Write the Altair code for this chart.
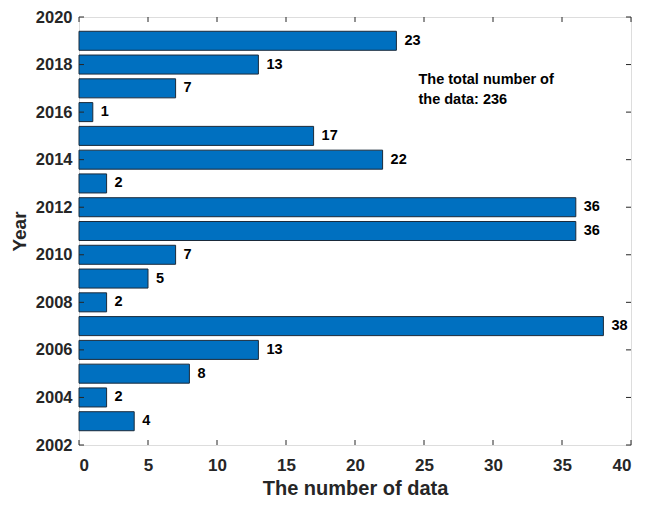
import altair as alt
import pandas as pd

years = [2003, 2004, 2005, 2006, 2007, 2008, 2009, 2010, 2011, 2012, 2013, 2014, 2015, 2016, 2017, 2018, 2019]
counts = [4, 2, 8, 13, 38, 2, 5, 7, 36, 36, 2, 22, 17, 1, 7, 13, 23]
x_ticks = [0, 5, 10, 15, 20, 25, 30, 35, 40]
y_ticks = [2002, 2004, 2006, 2008, 2010, 2012, 2014, 2016, 2018, 2020]
note_lines = ["The total number of", "the data: 236"]
note_x = [24.6, 24.6]
note_y = [2017.33, 2016.5]

W, H = 552, 428
FONT = "Liberation Sans"
INK = "#262626"

df = pd.DataFrame({"year": years, "count": counts})

xs = alt.Scale(domain=[0, 40], nice=False, zero=True)
ys = alt.Scale(domain=[2002, 2020], nice=False, zero=False)

bars = alt.Chart(df).transform_calculate(
    y0="datum.year - 0.4", y1="datum.year + 0.4"
).mark_bar(color="#0070C0", stroke="#1a2a3a", strokeWidth=1).encode(
    x=alt.X("count:Q", scale=xs,
            axis=alt.Axis(values=x_ticks, title="The number of data", grid=False,
                          domain=False, ticks=False, labelPadding=12,
                          labelFontSize=17, labelFontWeight="bold", labelColor=INK,
                          labelFont=FONT, titleFont=FONT, titleFontSize=20,
                          titleFontWeight="bold", titleColor=INK, titlePadding=5)),
    x2=alt.value(0),
    y=alt.Y("y0:Q", scale=ys,
            axis=alt.Axis(values=y_ticks, title="Year", grid=False, format="d",
                          domain=False, ticks=False, labelPadding=7,
                          labelFontSize=16.5, labelFontWeight="bold", labelColor=INK,
                          labelFont=FONT, titleFont=FONT, titleFontSize=19,
                          titleFontWeight="bold", titleColor=INK, titlePadding=6)),
    y2="y1:Q",
)

labels = alt.Chart(df).mark_text(
    align="left", baseline="middle", dx=8, font=FONT, fontSize=14.5,
    fontWeight="bold", color="black"
).encode(
    x=alt.X("count:Q", scale=xs),
    y=alt.Y("year:Q", scale=ys),
    text="count:Q",
)

note_df = pd.DataFrame({"t": note_lines, "x": note_x, "y": note_y})
note = alt.Chart(note_df).mark_text(
    align="left", baseline="middle", font=FONT, fontSize=14.5,
    fontWeight="bold", color="black"
).encode(
    x=alt.X("x:Q", scale=xs), y=alt.Y("y:Q", scale=ys), text="t:N"
)

xt = pd.DataFrame({"v": x_ticks})
yt = pd.DataFrame({"v": y_ticks})
tick_bottom = alt.Chart(xt).mark_rule(color=INK).encode(
    x=alt.X("v:Q", scale=xs), y=alt.value(H), y2=alt.value(H - 5))
tick_top = alt.Chart(xt).mark_rule(color=INK).encode(
    x=alt.X("v:Q", scale=xs), y=alt.value(0), y2=alt.value(5))
tick_left = alt.Chart(yt).mark_rule(color=INK).encode(
    y=alt.Y("v:Q", scale=ys), x=alt.value(0), x2=alt.value(5))
tick_right = alt.Chart(yt).mark_rule(color=INK).encode(
    y=alt.Y("v:Q", scale=ys), x=alt.value(W), x2=alt.value(W - 5))

chart = alt.layer(bars, labels, note, tick_bottom, tick_top, tick_left, tick_right).properties(
    width=W, height=H,
    autosize=alt.AutoSizeParams(type="none"),
    padding={"left": 71, "top": 9, "right": 10, "bottom": 52},
).configure_view(stroke=INK, strokeWidth=1.2).configure(background="white")

chart.save("out.html", embed_options={"renderer": "svg", "actions": False})
